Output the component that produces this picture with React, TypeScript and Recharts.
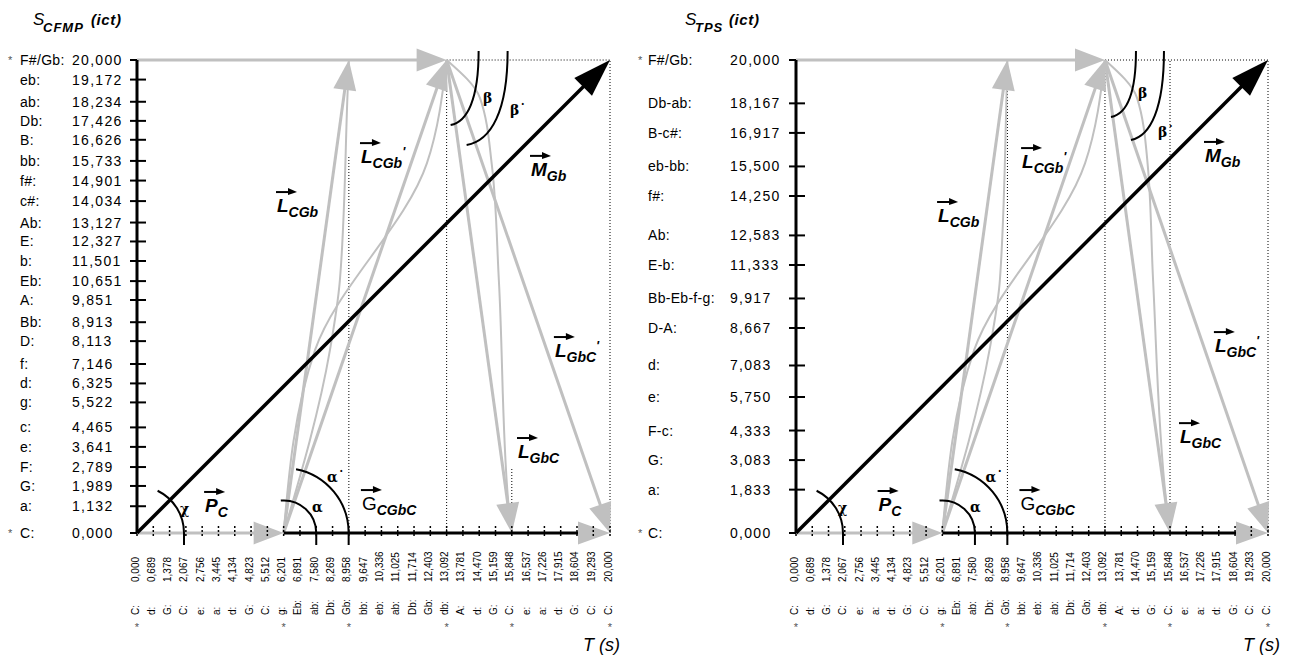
import React from 'react';
import { ComposedChart, XAxis, YAxis, Line, ReferenceLine, ReferenceDot } from 'recharts';

// time axis: chord onsets (s)
const timeValues = [0, 0.689, 1.378, 2.067, 2.756, 3.445, 4.134, 4.823, 5.512, 6.201, 6.891, 7.58, 8.269, 8.958, 9.647, 10.336, 11.025, 11.714, 12.403, 13.092, 13.781, 14.47, 15.159, 15.848, 16.537, 17.226, 17.915, 18.604, 19.293, 20];
const timeChords = ['C', 'd', 'G', 'C', 'e', 'a', 'd', 'G', 'C', 'g', 'Eb', 'ab', 'Db', 'Gb', 'bb', 'eb', 'ab', 'Db', 'Gb', 'db', 'A', 'd', 'G', 'C', 'e', 'a', 'd', 'G', 'C', 'C'];
const timeStarred = [0, 6.201, 8.958, 13.092, 15.848, 20];

// CFMP distances (ict)
const cfmpLevels = [0, 1.132, 1.989, 2.789, 3.641, 4.465, 5.522, 6.325, 7.146, 8.113, 8.913, 9.851, 10.651, 11.501, 12.327, 13.127, 14.034, 14.901, 15.733, 16.626, 17.426, 18.234, 19.172, 20];
const cfmpChords = ['C', 'a', 'G', 'F', 'e', 'c', 'g', 'd', 'f', 'D', 'Bb', 'A', 'Eb', 'b', 'E', 'Ab', 'c#', 'f#', 'bb', 'B', 'Db', 'ab', 'eb', 'F#/Gb'];

// TPS distances (ict)
const tpsLevels = [0, 1.833, 3.083, 4.333, 5.75, 7.083, 8.667, 9.917, 11.333, 12.583, 14.25, 15.5, 16.917, 18.167, 20];
const tpsChords = ['C', 'a', 'G', 'F-c', 'e', 'd', 'D-A', 'Bb-Eb-f-g', 'E-b', 'Ab', 'f#', 'eb-bb', 'B-c#', 'Db-ab', 'F#/Gb'];
const starredLevels = [0, 20];

// key moments / levels
const T0 = 0, T_G = 6.201, T_GB = 8.958, T_DB = 13.092, T_C = 15.848, T_END = 20;
const S0 = 0, S_MAX = 20;

// smoothed trajectories
const cfmpCurveCGb = [{ x: 6.201, y: 0 }, { x: 8.16, y: 7.74 }, { x: 8.58, y: 10.7 }, { x: 8.9, y: 18.5 }, { x: 8.958, y: 20 }];
const cfmpCurveCGb2 = [{ x: 6.201, y: 0 }, { x: 7.53, y: 7.74 }, { x: 12.26, y: 15.64 }, { x: 13.092, y: 20 }];
const cfmpCurveGbC = [{ x: 13.092, y: 20 }, { x: 14.5, y: 18.4 }, { x: 15.0, y: 15.6 }, { x: 15.3, y: 10.7 }, { x: 15.69, y: 1.4 }, { x: 15.848, y: 0 }];

const tpsCurveCGb = [{ x: 6.201, y: 0 }, { x: 8.2, y: 7.74 }, { x: 8.64, y: 10.7 }, { x: 8.92, y: 18.5 }, { x: 8.958, y: 20 }];
const tpsCurveCGb2 = [{ x: 6.201, y: 0 }, { x: 7.55, y: 7.74 }, { x: 12.25, y: 15.64 }, { x: 13.092, y: 20 }];
const tpsCurveGbC = [{ x: 13.092, y: 20 }, { x: 14.45, y: 18.4 }, { x: 14.9, y: 15.6 }, { x: 15.13, y: 10.7 }, { x: 15.68, y: 1.4 }, { x: 15.848, y: 0 }];

const FONT = '"Liberation Sans", Arial, sans-serif';
const GRAY = '#c0c0c0';

const fmt = (v: number) => v.toFixed(3).replace('.', ',');

type Pt = { x: number; y: number };

const arrow = (shaft: string, head: string, w: number, len: number, half: number) => (p: any) => {
  const { x1, y1, x2, y2 } = p;
  const d = Math.hypot(x2 - x1, y2 - y1) || 1;
  const ux = (x2 - x1) / d, uy = (y2 - y1) / d;
  const bx = x2 - ux * len, by = y2 - uy * len;
  return (
    <g>
      <line x1={x1} y1={y1} x2={bx + ux * 2} y2={by + uy * 2} stroke={shaft} strokeWidth={w} />
      <polygon points={`${x2},${y2} ${bx - uy * half},${by + ux * half} ${bx + uy * half},${by - ux * half}`} fill={head} />
    </g>
  );
};

const VecLabel = (main: string, sub: string, prime = false, upright = false) => (p: any) => {
  const { cx, cy } = p;
  return (
    <g fontFamily={FONT} fill="#000">
      <line x1={cx - 1} y1={cy - 20} x2={cx + 13} y2={cy - 20} stroke="#000" strokeWidth={2} />
      <polygon points={`${cx + 20},${cy - 20} ${cx + 11},${cy - 24} ${cx + 11},${cy - 17}`} fill="#000" />
      <text x={cx} y={cy} fontSize={19} fontStyle={upright ? 'normal' : 'italic'} fontWeight={upright ? 'normal' : 'bold'}>
        {main}
        <tspan fontSize={14} fontWeight="bold" fontStyle="italic" dy={5}>{sub}</tspan>
        {prime && <tspan fontSize={13} dy={-12}>'</tspan>}
      </text>
    </g>
  );
};

const Greek = (s: string) => (p: any) => (
  <text x={p.cx} y={p.cy} fontFamily='"DejaVu Serif", serif' fontWeight="bold" fontSize={14} fill="#000">{s}</text>
);

const arcShape = (r: number, a0: number, a1: number) => (p: any) => {
  const { cx, cy } = p;
  const rad = (a: number) => (a * Math.PI) / 180;
  const sx = cx + r * Math.cos(rad(a0)), sy = cy - r * Math.sin(rad(a0));
  const ex = cx + r * Math.cos(rad(a1)), ey = cy - r * Math.sin(rad(a1));
  return <path d={`M${cx + r},${cy + 12} L${sx},${sy} A${r},${r} 0 0 0 ${ex},${ey}`} fill="none" stroke="#000" strokeWidth={2} />;
};

const betaShape = (sx: number, ex: number, ey: number) => (p: any) => {
  const { cx, cy } = p;
  return (
    <path d={`M${cx + sx},${cy - 9} C${cx + sx},${cy + ey * 0.6} ${cx + ex + (sx - ex) * 0.6},${cy + ey * 0.95} ${cx + ex},${cy + ey}`} fill="none" stroke="#000" strokeWidth={2} />
  );
};

type Place = { x: number; y: number };
type PanelProps = {
  width: number;
  axisWidth: number;
  rightMargin: number;
  levels: number[];
  chords: string[];
  nameDx: number;
  numDx: number;
  starDx: number;
  curves: Pt[][];
  dotted: number[][];
  beta: number[];
  betaP: number[];
  at: Record<string, Place>;
};

function Panel(p: PanelProps) {
  const yTick = (props: any) => {
    const { x, y, payload } = props;
    const v = payload.value;
    const i = p.levels.indexOf(v);
    const edge = v === S0 || v === S_MAX;
    return (
      <g fontFamily={FONT} fontSize={14} fill="#000">
        <line x1={x - 7} x2={edge ? x : x + 9} y1={y} y2={y} stroke="#000" strokeWidth={2} />
        {starredLevels.includes(v) && <text x={x + p.starDx} y={y + 4} fontSize={11} fill="#555">*</text>}
        <text x={x + p.nameDx} y={y + 5} letterSpacing={0.3}>{p.chords[i]}:</text>
        <text x={x + p.numDx} y={y + 5} letterSpacing={1.3}>{fmt(v)}</text>
      </g>
    );
  };

  const xTick = (props: any) => {
    const { x, y, payload } = props;
    const v = payload.value;
    const i = timeValues.indexOf(v);
    return (
      <g fontFamily={FONT} fontSize={10} fill="#000">
        <line x1={x} x2={x} y1={y - 7} y2={y + 4} stroke="#000" strokeDasharray="2 2" strokeWidth={1.5} />
        <text transform={`translate(${x + 1.5},${y + 49}) rotate(-90)`}>{fmt(v)}</text>
        <text transform={`translate(${x + 1.5},${y + 82}) rotate(-90)`}>{timeChords[i]}:</text>
        {timeStarred.includes(v) && <text x={x} y={y + 98} textAnchor="middle" fontSize={11} fill="#555">*</text>}
      </g>
    );
  };

  const a = p.at;
  return (
    <ComposedChart width={p.width} height={659} margin={{ top: 60, right: p.rightMargin, bottom: 26, left: 0 }}>
      <XAxis dataKey="x" type="number" domain={[T0, T_END]} ticks={timeValues} interval={0} allowDataOverflow
        axisLine={false} tickLine={false} tickSize={0} tickMargin={0} height={100} tick={xTick} />
      <YAxis type="number" domain={[S0, S_MAX]} ticks={p.levels} interval={0} allowDataOverflow width={p.axisWidth}
        axisLine={{ stroke: '#000', strokeWidth: 3 }} tickLine={false} tickSize={0} tickMargin={0} tick={yTick} />

      {p.dotted.map((d, k) => (
        <ReferenceLine key={`dot-${k}`} segment={[{ x: d[0], y: d[1] }, { x: d[2], y: d[3] }]} ifOverflow="visible"
          stroke="#000" strokeDasharray="1 2" strokeWidth={1} />
      ))}

      {p.curves.map((c, k) => (
        <Line key={`curve-${k}`} data={c} dataKey="y" type="monotoneY" stroke={GRAY} strokeWidth={2} dot={false} activeDot={false} isAnimationActive={false} />
      ))}

      <ReferenceLine segment={[{ x: T0, y: S_MAX }, { x: T_DB, y: S_MAX }]} ifOverflow="visible" shape={arrow(GRAY, GRAY, 3, 30, 11.5)} />
      <ReferenceLine segment={[{ x: T_G, y: S0 }, { x: T_GB, y: S_MAX }]} ifOverflow="visible" shape={arrow(GRAY, GRAY, 3, 30, 11.5)} />
      <ReferenceLine segment={[{ x: T_G, y: S0 }, { x: T_DB, y: S_MAX }]} ifOverflow="visible" shape={arrow(GRAY, GRAY, 3, 30, 11.5)} />
      <ReferenceLine segment={[{ x: T_DB, y: S_MAX }, { x: T_C, y: S0 }]} ifOverflow="visible" shape={arrow(GRAY, GRAY, 3, 30, 11.5)} />
      <ReferenceLine segment={[{ x: T_DB, y: S_MAX }, { x: T_END, y: S0 }]} ifOverflow="visible" shape={arrow(GRAY, GRAY, 3, 30, 11.5)} />
      <ReferenceLine segment={[{ x: T0, y: S0 }, { x: T_G, y: S0 }]} ifOverflow="visible" shape={arrow(GRAY, GRAY, 3, 30, 11.5)} />
      <ReferenceLine segment={[{ x: T_G, y: S0 }, { x: T_END, y: S0 }]} ifOverflow="visible" shape={arrow('#000', GRAY, 3, 32, 11.5)} />
      <ReferenceLine segment={[{ x: T0, y: S0 }, { x: T_END, y: S_MAX }]} ifOverflow="visible" shape={arrow('#000', '#000', 3.5, 38, 12.5)} />

      <ReferenceDot x={T0} y={S0} ifOverflow="visible" shape={arcShape(47, 0, 64)} />
      <ReferenceDot x={T_G} y={S0} ifOverflow="visible" shape={arcShape(32.6, 0, 95)} />
      <ReferenceDot x={T_G} y={S0} ifOverflow="visible" shape={arcShape(65, 0, 79)} />
      <ReferenceDot x={T_DB} y={S_MAX} ifOverflow="visible" shape={betaShape(p.beta[0], p.beta[1], p.beta[2])} />
      <ReferenceDot x={T_DB} y={S_MAX} ifOverflow="visible" shape={betaShape(p.betaP[0], p.betaP[1], p.betaP[2])} />

      <ReferenceDot x={a.chi.x} y={a.chi.y} ifOverflow="visible" shape={Greek('χ')} />
      <ReferenceDot x={a.alpha.x} y={a.alpha.y} ifOverflow="visible" shape={Greek('α')} />
      <ReferenceDot x={a.alphaP.x} y={a.alphaP.y} ifOverflow="visible" shape={Greek('α\u02d9')} />
      <ReferenceDot x={a.beta.x} y={a.beta.y} ifOverflow="visible" shape={Greek('β')} />
      <ReferenceDot x={a.betaP.x} y={a.betaP.y} ifOverflow="visible" shape={Greek('β\u02d9')} />
      <ReferenceDot x={a.pc.x} y={a.pc.y} ifOverflow="visible" shape={VecLabel('P', 'C')} />
      <ReferenceDot x={a.g.x} y={a.g.y} ifOverflow="visible" shape={VecLabel('G', 'CGbC', false, true)} />
      <ReferenceDot x={a.lcgb.x} y={a.lcgb.y} ifOverflow="visible" shape={VecLabel('L', 'CGb')} />
      <ReferenceDot x={a.lcgb2.x} y={a.lcgb2.y} ifOverflow="visible" shape={VecLabel('L', 'CGb', true)} />
      <ReferenceDot x={a.m.x} y={a.m.y} ifOverflow="visible" shape={VecLabel('M', 'Gb')} />
      <ReferenceDot x={a.lgbc2.x} y={a.lgbc2.y} ifOverflow="visible" shape={VecLabel('L', 'GbC', true)} />
      <ReferenceDot x={a.lgbc.x} y={a.lgbc.y} ifOverflow="visible" shape={VecLabel('L', 'GbC')} />
    </ComposedChart>
  );
}

const Title = ({ x, sub, subW }: { x: number; sub: string; subW: number }) => (
  <g fontFamily={FONT} fill="#000">
    <text x={x} y={25} fontSize={17} fontStyle="italic">S</text>
    <text x={x + 10} y={32} fontSize={13} fontWeight="bold" fontStyle="italic" letterSpacing={1}>{sub}</text>
    <text x={x + 14 + subW} y={25} fontSize={15} fontWeight="bold" fontStyle="italic" letterSpacing={0.6}>(ict)</text>
  </g>
);

export default function App() {
  return (
    <div style={{ position: 'absolute', left: 0, top: 0, width: 1289, height: 659, background: '#fff' }}>
      <div style={{ position: 'absolute', left: 0, top: 0 }}>
        <Panel
          width={620} axisWidth={137} rightMargin={10}
          levels={cfmpLevels} chords={cfmpChords}
          nameDx={-117} numDx={-65} starDx={-129}
          curves={[cfmpCurveCGb, cfmpCurveCGb2, cfmpCurveGbC]}
          dotted={[[T_GB, S0, T_GB, 15.9], [T_DB, S0, T_DB, 18.7], [T_C, S0, T_C, 2.75], [T_END, S0, T_END, S_MAX], [T_DB, S_MAX, T_END, S_MAX]]}
          beta={[32, 4, 65]} betaP={[61, 20, 85]}
          at={{
            chi: { x: 1.82, y: 0.8 }, pc: { x: 2.88, y: 0.89 }, alpha: { x: 7.4, y: 0.89 }, alphaP: { x: 8.03, y: 2.16 },
            g: { x: 9.51, y: 0.97 }, lcgb: { x: 5.92, y: 13.57 }, lcgb2: { x: 9.47, y: 15.64 }, m: { x: 16.66, y: 15.1 },
            beta: { x: 14.63, y: 18.18 }, betaP: { x: 15.77, y: 17.67 }, lgbc2: { x: 17.67, y: 7.44 }, lgbc: { x: 16.11, y: 3.17 },
          }}
        />
      </div>
      <div style={{ position: 'absolute', left: 620, top: 0 }}>
        <Panel
          width={669} axisWidth={176} rightMargin={21}
          levels={tpsLevels} chords={tpsChords}
          nameDx={-148} numDx={-66} starDx={-158}
          curves={[tpsCurveCGb, tpsCurveCGb2, tpsCurveGbC]}
          dotted={[[T_GB, S0, T_GB, 18.8], [T_DB, S0, T_DB, S_MAX], [T_C, S0, T_C, S_MAX], [T_END, S0, T_END, S_MAX], [T_DB, S_MAX, T_END, S_MAX]]}
          beta={[31, 6, 57]} betaP={[59, 26, 80]}
          at={{
            chi: { x: 1.78, y: 0.85 }, pc: { x: 3.5, y: 0.93 }, alpha: { x: 7.37, y: 0.89 }, alphaP: { x: 8.03, y: 2.16 },
            g: { x: 9.51, y: 0.97 }, lcgb: { x: 6.02, y: 13.15 }, lcgb2: { x: 9.58, y: 15.43 }, m: { x: 17.33, y: 15.69 },
            beta: { x: 14.49, y: 18.39 }, betaP: { x: 15.34, y: 16.74 }, lgbc2: { x: 17.75, y: 7.65 }, lgbc: { x: 16.27, y: 3.8 },
          }}
        />
      </div>
      <svg width={1289} height={659} style={{ position: 'absolute', left: 0, top: 0, pointerEvents: 'none' }}>
        <Title x={33} sub="CFMP" subW={44} />
        <Title x={685} sub="TPS" subW={30} />
        <text x={583} y={651} fontFamily={FONT} fontSize={18} fontStyle="italic">T (s)</text>
        <text x={1243} y={651} fontFamily={FONT} fontSize={18} fontStyle="italic">T (s)</text>
      </svg>
    </div>
  );
}
